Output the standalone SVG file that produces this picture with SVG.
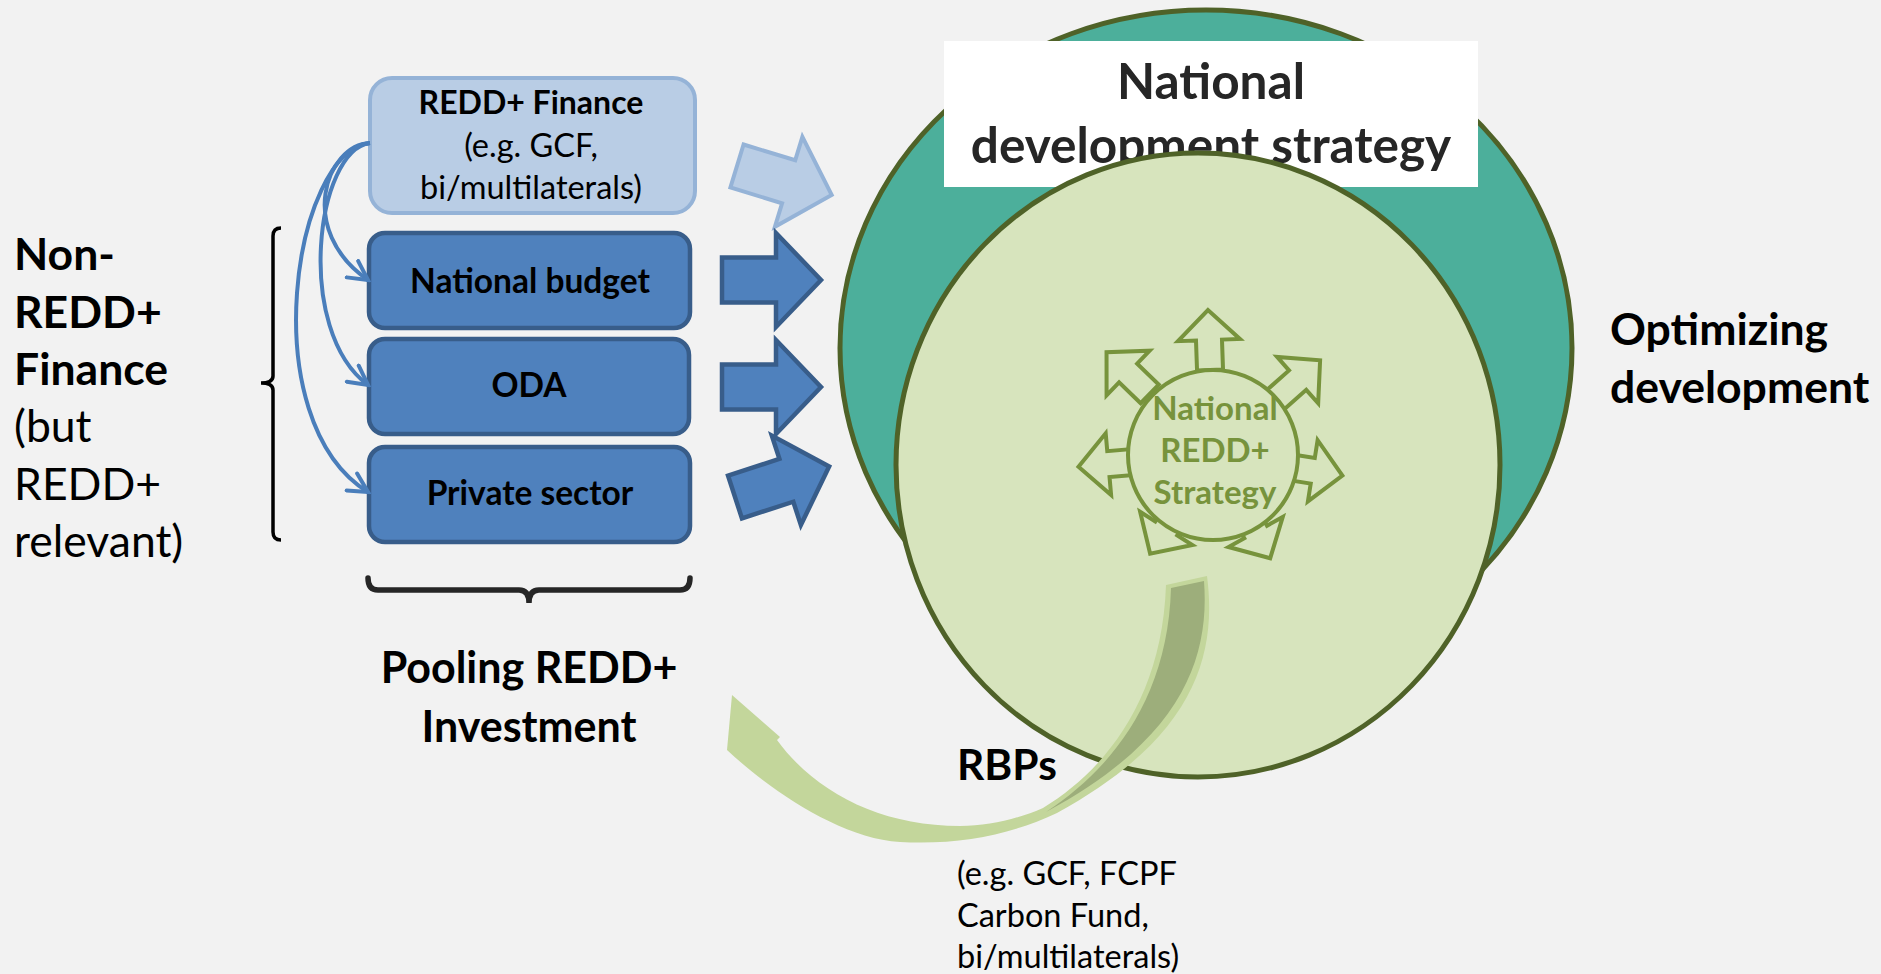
<svg xmlns="http://www.w3.org/2000/svg" width="1881" height="974" viewBox="0 0 1881 974">
<style>
text{font-family:Lato,"Open Sans","Liberation Sans",sans-serif;}
.b{font-weight:bold;}
.lbl{font-size:44.5px;fill:#000;}
.box-t{font-size:32.5px;fill:#000;}
.box-b{font-size:33.5px;font-weight:bold;fill:#000;}
.strat{font-size:33px;font-weight:bold;fill:#77933c;}
.title{font-size:49.5px;font-weight:bold;fill:#262626;}
.lightbox{fill:#b9cde5;stroke:#95b3d7;stroke-width:4;}
.darkbox{fill:#4f81bd;stroke:#385d8a;stroke-width:4.5;}
.lightarrow{fill:#b9cde5;stroke:#95b3d7;stroke-width:4;stroke-linejoin:miter;}
.darkarrow{fill:#4f81bd;stroke:#385d8a;stroke-width:4.5;stroke-linejoin:miter;}
.conn{fill:none;stroke:#4a7ebb;stroke-width:4;marker-end:url(#open);}
.sarrow{fill:#d7e4bd;stroke:#77933c;stroke-width:4;stroke-linejoin:miter;}
.ell{stroke:#4f6228;stroke-width:5;}
</style>
<defs>
<marker id="open" markerUnits="userSpaceOnUse" viewBox="0 0 24 24" refX="21" refY="12" markerWidth="24" markerHeight="24" orient="auto">
<path d="M2,2 L21,12 L2,22" fill="none" stroke="#4a7ebb" stroke-width="4" stroke-linecap="round"/>
</marker>
<polygon id="blk" points="0,-22.5 54,-22.5 54,-47 99,0 54,47 54,22.5 0,22.5"/>
<polygon id="sar" points="0,-13 30,-13 30,-31 60,0 30,31 30,13 0,13"/>
</defs>
<rect width="1881" height="974" fill="#f2f2f2"/>

<g id="national-development-strategy">
<ellipse class="ell" cx="1206" cy="348" rx="366" ry="338" fill="#4caf9b"/>
<rect x="944" y="41" width="534" height="146" fill="#ffffff"/>
<text class="title" x="1211" y="99" text-anchor="middle">National</text>
<text class="title" x="1211" y="163" text-anchor="middle">development strategy</text>
</g>

<g id="inner-circle">
<ellipse class="ell" cx="1198" cy="465" rx="302" ry="312" fill="#d7e4bd"/>
</g>

<g id="national-redd-strategy">
<g transform="translate(1213,455)">
<use href="#sar" class="sarrow" transform="rotate(-92) translate(85,0)"/>
<use href="#sar" class="sarrow" transform="rotate(-136) translate(88,0)"/>
<use href="#sar" class="sarrow" transform="rotate(-41.5) translate(83,0)"/>
<use href="#sar" class="sarrow" transform="rotate(175) translate(75,0)"/>
<use href="#sar" class="sarrow" transform="rotate(9) translate(71,0)"/>
<use href="#sar" class="sarrow" transform="rotate(122.5) translate(57,0)"/>
<use href="#sar" class="sarrow" transform="rotate(61) translate(58,0)"/>
</g>
<circle cx="1213" cy="455" r="85" fill="#d7e4bd" stroke="#77933c" stroke-width="4"/>
<text class="strat" x="1215" y="420" text-anchor="middle">National</text>
<text class="strat" x="1215" y="462" text-anchor="middle">REDD+</text>
<text class="strat" x="1215" y="504" text-anchor="middle">Strategy</text>
</g>

<g id="redd-finance">
<rect class="lightbox" x="370" y="78" width="325" height="135" rx="22"/>
<text class="box-b" x="531" y="114" text-anchor="middle" style="font-size:32px">REDD+ Finance</text>
<text class="box-t" x="531" y="157" text-anchor="middle">(e.g. GCF,</text>
<text class="box-t" x="531" y="199" text-anchor="middle">bi/multilaterals)</text>
</g>
<g id="national-budget">
<rect class="darkbox" x="369" y="233" width="321" height="95" rx="16"/>
<text class="box-b" x="530" y="293" text-anchor="middle">National budget</text>
</g>
<g id="oda">
<rect class="darkbox" x="369" y="339" width="320" height="95" rx="16"/>
<text class="box-b" x="529" y="397" text-anchor="middle">ODA</text>
</g>
<g id="private-sector">
<rect class="darkbox" x="369" y="447" width="321" height="95" rx="16"/>
<text class="box-b" x="530" y="505" text-anchor="middle">Private sector</text>
</g>

<g id="connectors">
<use href="#blk" class="lightarrow" transform="translate(737,166) rotate(17)"/>
<use href="#blk" class="darkarrow" transform="translate(722,280)"/>
<use href="#blk" class="darkarrow" transform="translate(722,387)"/>
<use href="#blk" class="darkarrow" transform="translate(735,497) rotate(-18)"/>
<path class="conn" d="M370,143 C326,145 296,230 368,280"/>
<path class="conn" d="M370,143 C316,150 294,330 368,385"/>
<path class="conn" d="M370,143 C294,150 252,420 368,492"/>
<path d="M1207,576 C1218,660 1190,740 1057,813 C1010,835 960,845 900,842 C840,838 770,790 727,750 L732,695 L780,737 L777,740 C815,792 880,826 960,826 C990,826 1020,818 1043,808 C1105,770 1162,700 1166,585 Z" fill="#c3d69b"/>
<path d="M1171,588 L1204,581 C1210,660 1180,740 1046,812 C1110,770 1168,700 1171,588 Z" fill="#9dae7b"/>
</g>

<g id="left-bracket">
<path d="M281,228 Q273,228 273,236 L273,376 Q273,383 261,383 Q273,383 273,390 L273,532 Q273,540 281,540" fill="none" stroke="#000" stroke-width="3.5"/>
</g>
<g id="bottom-brace">
<path d="M368,578 Q368,590 378,590 L519,590 Q529,590 529,603 Q529,590 539,590 L680,590 Q690,590 690,578" fill="none" stroke="#262626" stroke-width="5.5" stroke-linecap="round"/>
</g>

<g id="non-redd-label">
<text class="lbl b" x="14" y="270">Non-</text>
<text class="lbl b" x="14" y="328">REDD+</text>
<text class="lbl b" x="14" y="385">Finance</text>
<text class="lbl" x="14" y="442">(but</text>
<text class="lbl" x="14" y="500">REDD+</text>
<text class="lbl" x="14" y="557">relevant)</text>
</g>
<g id="pooling-label">
<text class="lbl b" x="529" y="683" text-anchor="middle" style="font-size:43px">Pooling REDD+</text>
<text class="lbl b" x="529" y="742" text-anchor="middle" style="font-size:43px">Investment</text>
</g>
<g id="optimizing-label">
<text class="lbl b" x="1610" y="345">Optimizing</text>
<text class="lbl b" x="1610" y="403">development</text>
</g>
<g id="rbps-label">
<text class="lbl b" x="957" y="780" style="font-size:42.5px">RBPs</text>
<text class="box-t" x="957" y="885">(e.g. GCF, FCPF</text>
<text class="box-t" x="957" y="927">Carbon Fund,</text>
<text class="box-t" x="957" y="968">bi/multilaterals)</text>
</g>
</svg>
